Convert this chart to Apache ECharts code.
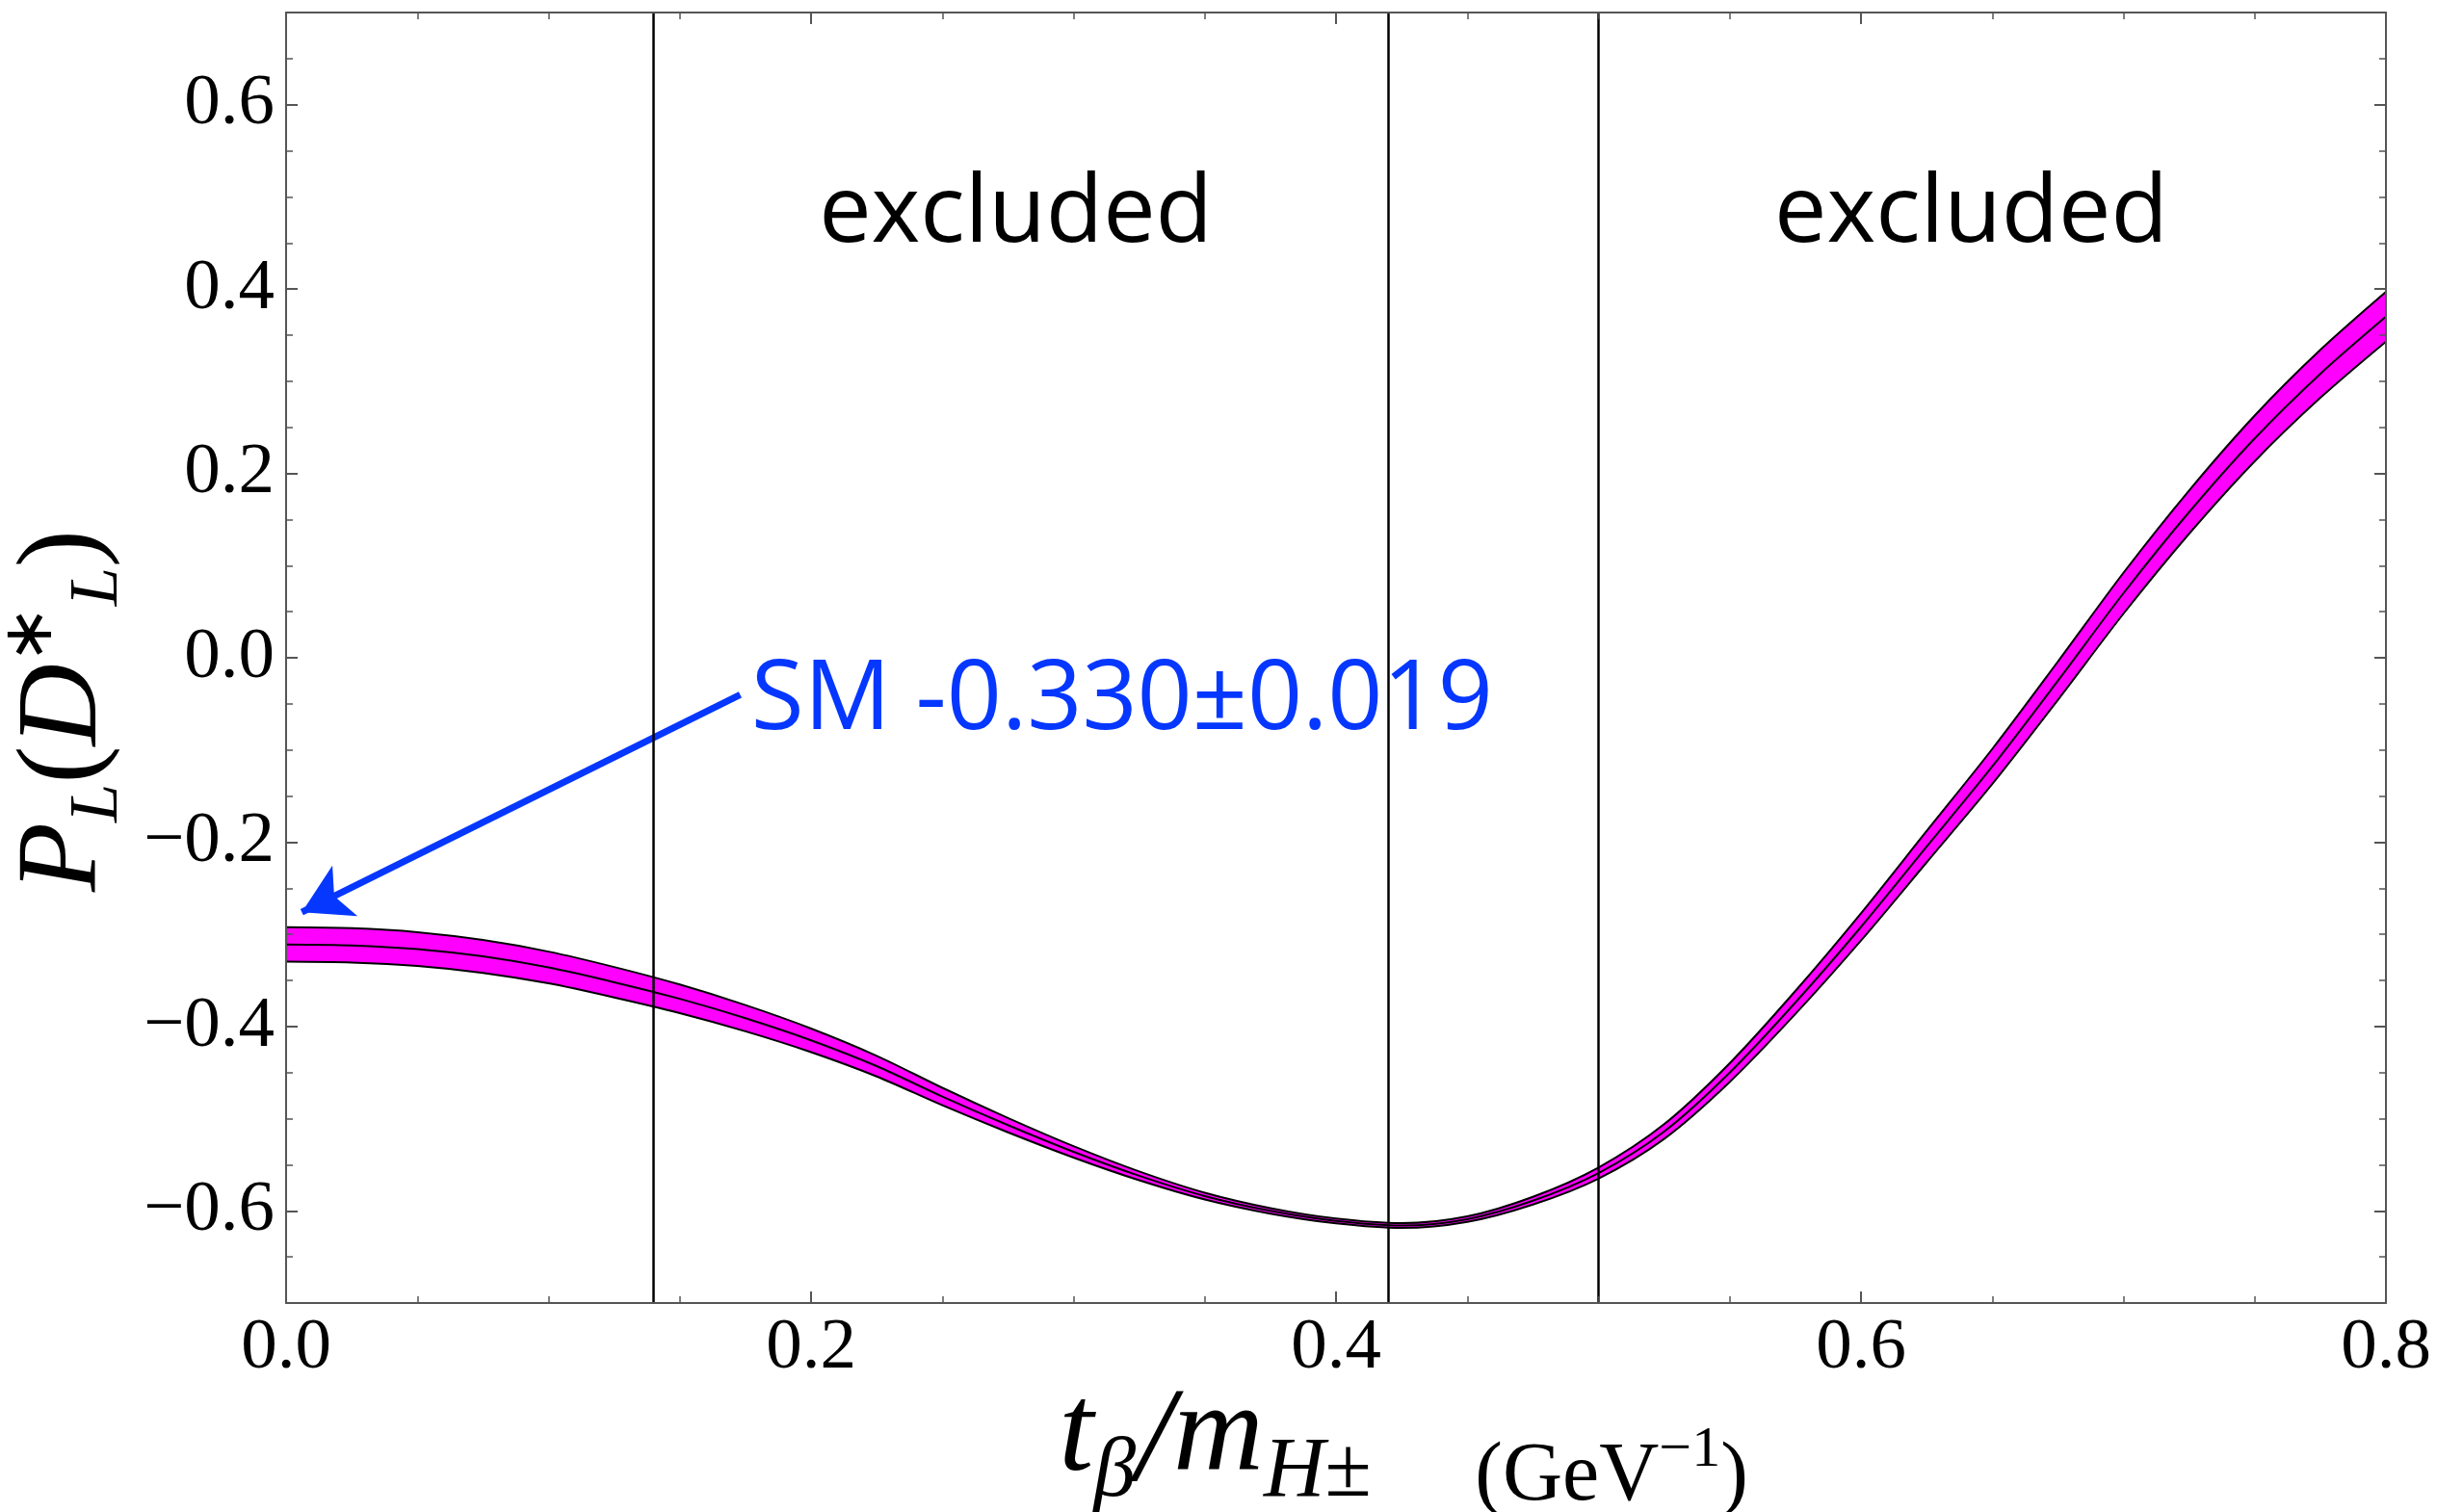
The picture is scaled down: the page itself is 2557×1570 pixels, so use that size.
<!DOCTYPE html>
<html>
<head>
<meta charset="utf-8">
<script src="https://cdn.jsdelivr.net/npm/echarts@6/dist/echarts.min.js"></script>
<style>
html, body { margin: 0; padding: 0; background: #fff; }
#main { width: 2557px; height: 1570px; }
</style>
</head>
<body>
<div id="main"></div>
<script>
// x positions (tan beta / m_H) and the band
var xs = [0, 0.025, 0.05, 0.075, 0.1, 0.125, 0.15, 0.175, 0.2, 0.225, 0.25, 0.275, 0.3, 0.325, 0.35, 0.375, 0.4,
          0.425, 0.45, 0.475, 0.5, 0.525, 0.55, 0.575, 0.6, 0.625, 0.65, 0.675, 0.7, 0.725, 0.75, 0.775, 0.8];
var centre = [-0.311, -0.312, -0.316, -0.324, -0.336, -0.352, -0.370, -0.391, -0.415, -0.443, -0.476, -0.507, -0.536,
              -0.562, -0.584, -0.600, -0.611, -0.616, -0.609, -0.589, -0.559, -0.514, -0.450, -0.374, -0.292, -0.205,
              -0.118, -0.025, 0.070, 0.158, 0.238, 0.308, 0.370];
var lower = [-0.3297, -0.3306, -0.3343, -0.3418, -0.3532, -0.3685, -0.3855, -0.4052, -0.4278, -0.4542, -0.4855, -0.5148,
             -0.5422, -0.5668, -0.5877, -0.603, -0.6136, -0.6186, -0.612, -0.5932, -0.565, -0.522, -0.4602, -0.3865,
             -0.3068, -0.222, -0.137, -0.0458, 0.0478, 0.1345, 0.2132, 0.282, 0.343];
var upper = [-0.2923, -0.2934, -0.2977, -0.3062, -0.3188, -0.3355, -0.3545, -0.3768, -0.4022, -0.4318, -0.4665, -0.4992,
             -0.5298, -0.5572, -0.5803, -0.597, -0.6084, -0.6134, -0.606, -0.5848, -0.553, -0.506, -0.4398, -0.3615,
             -0.2772, -0.188, -0.099, -0.0042, 0.0922, 0.1815, 0.2628, 0.334, 0.397];

// vertical limits
var cuts = [0.1357, 0.4205, 0.4976];

// tick labels
var yTicks = [-0.6, -0.4, -0.2, 0, 0.2, 0.4, 0.6];

// annotations
var smNote = 'SM -0.330\u00b10.019';
var smAt = [0.177, -0.048];
var arrowFrom = [0.173, -0.040];
var arrowTo = [0.006, -0.276];
var exclNote = 'excluded';
var exclAt = [[0.278, 0.480], [0.642, 0.480]];

var chart = echarts.init(document.getElementById('main'));

function pairs(ys) {
    return xs.map(function (x, i) { return [x, ys[i]]; });
}

var serif = 'Liberation Serif';
var frame = '#555';
var blue = '#0537ff';

function xAx(pos, showLabel) {
    return {
        type: 'value', position: pos, min: 0, max: 0.8, interval: 0.2, z: 10,
        axisLine: { show: true, onZero: false, lineStyle: { color: frame, width: 2 } },
        axisTick: { show: true, inside: true, length: 12, lineStyle: { color: frame, width: 2 } },
        minorTick: { show: true, splitNumber: 4, length: 7, lineStyle: { color: frame, width: 1.5 } },
        splitLine: { show: false },
        minorSplitLine: { show: false },
        axisLabel: {
            show: showLabel, margin: 10, color: '#000', fontFamily: serif, fontSize: 75,
            formatter: function (v) { return v.toFixed(1); }
        }
    };
}

function yMinor(pos) {
    return {
        type: 'value', position: pos, min: -0.7, max: 0.7, interval: 0.05, z: 10,
        axisLine: { show: true, onZero: false, lineStyle: { color: frame, width: 2 } },
        axisTick: { show: true, inside: true, length: 7, lineStyle: { color: frame, width: 1.5 } },
        axisLabel: { show: false },
        splitLine: { show: false }
    };
}

function yMajor(pos, showLabel) {
    return {
        type: 'value', position: pos, min: -0.7, max: 0.7, z: 10,
        axisLine: { show: false, onZero: false },
        axisTick: { show: true, inside: true, length: 12, customValues: yTicks, lineStyle: { color: frame, width: 2 } },
        axisLabel: {
            show: showLabel, customValues: yTicks, margin: 12, color: '#000', fontFamily: serif, fontSize: 75,
            formatter: function (v) { return (v < -1e-9 ? '\u2212' : '') + Math.abs(v).toFixed(1); }
        },
        splitLine: { show: false }
    };
}

// x title: every piece middle aligned, shifted with top / bottom padding
var xMain = xAx('bottom', true);
xMain.name = '{m|t}{ms|\u03b2}{sl|/}{m|m}{ms|H}{pm|\u00b1}{r|     (GeV}{sup|\u22121}{r|)}';
xMain.nameLocation = 'middle';
xMain.nameGap = 69;
xMain.nameMoveOverlap = false;
xMain.nameTextStyle = {
    padding: [0, 0, 0, 140],
    rich: {
        m: { fontFamily: serif, fontStyle: 'italic', fontSize: 130, lineHeight: 130, verticalAlign: 'middle', color: '#000' },
        ms: { fontFamily: serif, fontStyle: 'italic', fontSize: 88, lineHeight: 88, verticalAlign: 'middle', padding: [76, 0, 0, 0], color: '#000' },
        pm: { fontFamily: serif, fontSize: 88, lineHeight: 88, verticalAlign: 'middle', padding: [76, 0, 0, 0], color: '#000' },
        sl: { fontFamily: serif, fontStyle: 'italic', fontSize: 140, lineHeight: 140, verticalAlign: 'middle', padding: [16, 0, 0, 0], color: '#000' },
        r: { fontFamily: serif, fontSize: 86, lineHeight: 86, verticalAlign: 'middle', padding: [84, 0, 0, 0], color: '#000' },
        sup: { fontFamily: serif, fontSize: 60, lineHeight: 60, verticalAlign: 'middle', padding: [28, 0, 0, 0], color: '#000' }
    }
};

var yMainAx = yMajor('left', true);
yMainAx.name = '{m|P}{ms|L}{rp|(}{m|D}{sup|\u2217}{ms|L}{rp|)}';
yMainAx.nameLocation = 'middle';
yMainAx.nameGap = 159;
yMainAx.nameMoveOverlap = false;
yMainAx.nameTextStyle = {
    padding: [0, 110, 0, 0],
    rich: {
        m: { fontFamily: serif, fontStyle: 'italic', fontSize: 118, lineHeight: 140, color: '#000' },
        ms: { fontFamily: serif, fontStyle: 'italic', fontSize: 72, lineHeight: 61, verticalAlign: 'bottom', color: '#000' },
        rp: { fontFamily: serif, fontSize: 118, lineHeight: 140, color: '#000' },
        sup: { fontFamily: serif, fontSize: 72, lineHeight: 90, verticalAlign: 'top', color: '#000' }
    }
};

var option = {
    animation: false,
    backgroundColor: '#fff',
    grid: { left: 297, right: 80, top: 13, bottom: 217, containLabel: false, outerBoundsMode: 'none' },
    xAxis: [xMain, xAx('top', false)],
    yAxis: [yMainAx, yMinor('left'), yMinor('right'), yMajor('right', false)],
    series: [
        {
            name: 'upper', type: 'line', data: pairs(upper), smooth: 0.3, symbol: 'none',
            lineStyle: { color: '#000', width: 2 },
            areaStyle: { color: '#ff00ff', opacity: 1, origin: 'start' },
            markLine: {
                silent: true, symbol: ['none', 'arrow'], symbolSize: [44, 50],
                lineStyle: { color: blue, width: 7, type: 'solid' },
                label: { show: false },
                data: [[{ coord: arrowFrom }, { coord: arrowTo }]]
            }
        },
        {
            name: 'lower', type: 'line', data: pairs(lower), smooth: 0.3, symbol: 'none',
            lineStyle: { color: '#000', width: 2 },
            areaStyle: { color: '#fff', opacity: 1, origin: 'start' },
            markPoint: {
                symbol: 'rect', symbolSize: 1, itemStyle: { color: 'rgba(0,0,0,0)' },
                label: {
                    show: true, position: 'right', distance: 0, formatter: smNote,
                    fontFamily: 'Open Sans', fontSize: 100, color: blue
                },
                data: [{ coord: smAt }]
            }
        },
        {
            name: 'centre', type: 'line', data: pairs(centre), smooth: 0.3, symbol: 'none',
            lineStyle: { color: '#000', width: 2 },
            markLine: {
                silent: true, symbol: ['none', 'none'],
                lineStyle: { color: '#000', width: 2.5, type: 'solid' },
                label: { show: false },
                data: cuts.map(function (c) { return { xAxis: c }; })
            },
            markPoint: {
                symbol: 'rect', symbolSize: 1, itemStyle: { color: 'rgba(0,0,0,0)' },
                label: {
                    show: true, position: 'inside', formatter: exclNote,
                    fontFamily: 'Open Sans', fontSize: 97, color: '#000'
                },
                data: exclAt.map(function (p) { return { coord: p }; })
            }
        }
    ]
};

chart.setOption(option);
</script>
</body>
</html>
